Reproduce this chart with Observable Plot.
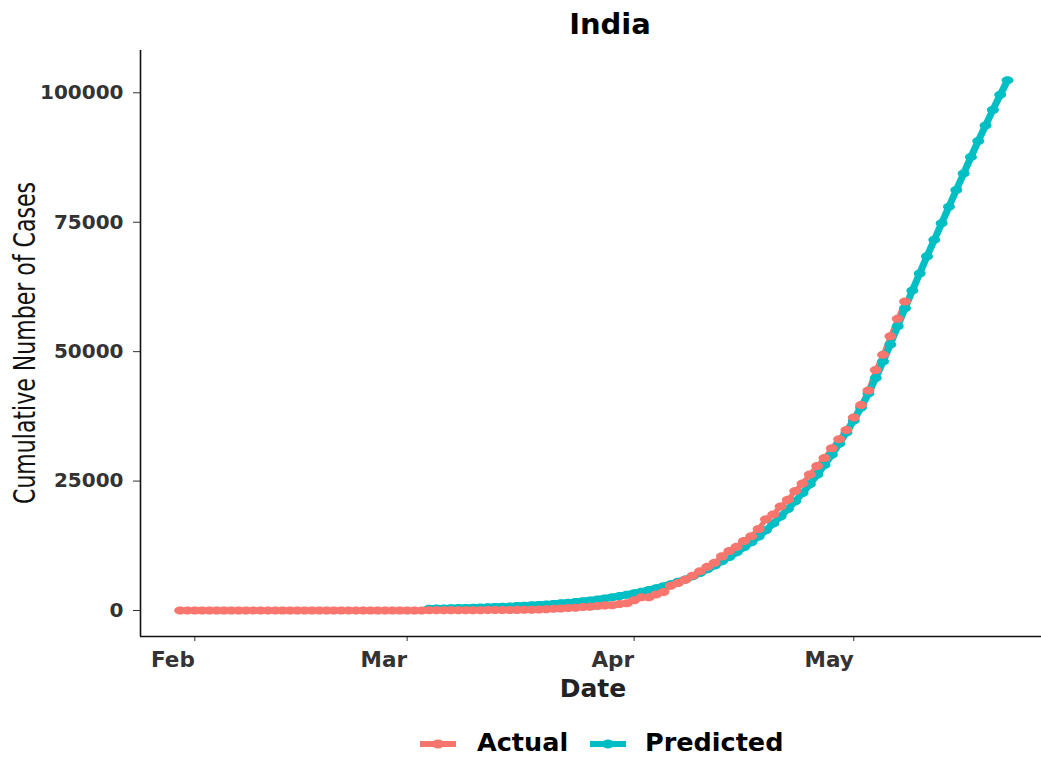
<!DOCTYPE html>
<html>
<head>
<meta charset="utf-8">
<script src="https://cdn.jsdelivr.net/npm/d3@7"></script>
<script src="https://cdn.jsdelivr.net/npm/@observablehq/plot@0.6"></script>
<style>
  html, body { margin: 0; padding: 0; background: #fff; }
  body { width: 1041px; height: 757px; overflow: hidden; position: relative; font-family: "DejaVu Sans", sans-serif; }
  #chart { position: absolute; left: 0; top: 0; }
  .lbl { position: absolute; white-space: nowrap; transform: translate(-50%, -50%); line-height: normal; }
  .title { font-weight: bold; font-size: 29px; color: #000; }
  .xlab { font-weight: bold; font-size: 25px; color: #222; }
  .ylab { font-family: "Liberation Sans Narrow", "DejaVu Sans Condensed", sans-serif; font-stretch: condensed; font-size: 24.5px; color: #111; transform: translate(-50%, -50%) rotate(-90deg) scale(1, 1.2); }
  .leg { position: absolute; font-weight: bold; font-size: 25.5px; line-height: normal; color: #000; white-space: nowrap; }
  .sw { position: absolute; }
</style>
</head>
<body>
<div id="chart"></div>
<div class="lbl title" style="left:610px; top:24px;">India</div>
<div class="lbl xlab" style="left:593px; top:688px;">Date</div>
<div class="lbl ylab" style="left:25px; top:343px;">Cumulative Number of Cases</div>
<div id="legend"></div>
<script>
// ---- data ----
const seriesNames = ["Actual", "Predicted"];
const seriesColors = ["#F8766D", "#00BFC4"];

const actualStart = "2020-01-30";
const actualValues = [
  1, 1,
  1, 2, 3, 3, 3, 3, 3, 3, 3, 3, 3, 3, 3, 3, 3, 3, 3, 3, 3, 3, 3, 3, 3, 3, 3, 3, 3, 3, 3,
  3, 5, 5, 28, 30, 31, 34, 39, 43, 56, 62, 73, 82, 102, 113, 119, 142, 156, 194, 244, 330, 396, 499, 536, 657, 727, 887, 987, 1024, 1251, 1397,
  1998, 2543, 2567, 3082, 3588, 4778, 5311, 5916, 6725, 7598, 8446, 9205, 10453, 11487, 12322, 13430, 14352, 15722, 17615, 18539, 20080, 21370, 23077, 24530, 26283, 27890, 29451, 31324, 33062, 34863,
  37257, 39699, 42505, 46437, 49400, 52987, 56351, 59695
];

const predictedStart = "2020-03-04";
const predictedValues = [
  330, 360, 390, 420, 460, 500, 540, 580, 630, 680, 730, 790, 850, 920, 1000, 1080, 1170, 1270, 1380, 1500, 1630, 1780, 1940, 2120, 2320, 2540, 2780, 3040,
  3320, 3620, 3950, 4300, 4680, 5090, 5530, 6000, 6600, 7250, 7950, 8700, 9500, 10350, 11250, 12200, 13200, 14300, 15500, 16800, 18150, 19600, 21100, 22700, 24400, 26200, 28100, 30100, 32200, 34400,
  36700, 39200, 41900, 44900, 48100, 51400, 54900, 58400, 61800, 65100, 68400, 71600, 74800, 78000, 81200, 84400, 87600, 90700, 93700, 96700, 99600, 102400
];

const xTickLabels = ["2020-02-01", "2020-03-01", "2020-04-01", "2020-05-01"];
const yTickValues = [0, 25000, 50000, 75000, 100000];

// ---- build tables ----
function daily(start, values) {
  const s = new Date(start + "T00:00Z");
  return values.map((v, i) => ({ date: d3.utcDay.offset(s, i), value: v }));
}
const actual = daily(actualStart, actualValues);
const predicted = daily(predictedStart, predictedValues);

const xDomain = [new Date("2020-01-24T14:00Z"), new Date("2020-05-26T15:20Z")];
const yDomain = [-5022, 108170];

// ellipse symbol (points appear horizontally elongated in the reference)
const ellipse = {
  draw(ctx, size) {
    const r = Math.sqrt(size / Math.PI);
    const rx = r * 1.22, ry = r * 0.82, k = 0.5523;
    ctx.moveTo(rx, 0);
    ctx.bezierCurveTo(rx, ry * k, rx * k, ry, 0, ry);
    ctx.bezierCurveTo(-rx * k, ry, -rx, ry * k, -rx, 0);
    ctx.bezierCurveTo(-rx, -ry * k, -rx * k, -ry, 0, -ry);
    ctx.bezierCurveTo(rx * k, -ry, rx, -ry * k, rx, 0);
    ctx.closePath();
  }
};

const chart = Plot.plot({
  width: 1041,
  height: 700,
  marginLeft: 140,
  marginRight: 0,
  marginTop: 50,
  marginBottom: 64,
  style: { background: "transparent", fontFamily: "DejaVu Sans, sans-serif" },
  x: { type: "utc", domain: xDomain, label: null },
  y: { domain: yDomain, label: null },
  marks: [
    Plot.axisY({
      ticks: yTickValues, tickSize: 7, tickPadding: 10,
      tickFormat: d => String(d), fontSize: 20, fontWeight: "bold",
      color: "#333", label: null
    }),
    Plot.axisX({
      ticks: xTickLabels.map(d => new Date(d + "T00:00Z")), tickSize: 5, tickPadding: 10,
      tickFormat: d3.utcFormat("%b"), textAnchor: "end", fontSize: 21.5, fontWeight: "bold",
      color: "#333", label: null
    }),
    Plot.ruleX([xDomain[0]], { stroke: "#111", strokeWidth: 1.6 }),
    Plot.ruleY([yDomain[0]], { stroke: "#111", strokeWidth: 1.6 }),
    Plot.line(actual, { x: "date", y: "value", stroke: seriesColors[0], strokeWidth: 5 }),
    Plot.line(predicted, { x: "date", y: "value", stroke: seriesColors[1], strokeWidth: 7 }),
    Plot.dot(predicted, { x: "date", y: "value", fill: seriesColors[1], r: 4.9, symbol: ellipse }),
    Plot.dot(actual, { x: "date", y: "value", fill: seriesColors[0], r: 4.9, symbol: ellipse })
  ]
});
document.getElementById("chart").appendChild(chart);

// ---- legend ----
const legend = document.getElementById("legend");
const legendPos = [{ sw: 420, tx: 477 }, { sw: 590, tx: 645 }];
seriesNames.forEach((name, i) => {
  const c = seriesColors[i];
  const sw = document.createElement("div");
  sw.className = "sw";
  sw.style.left = legendPos[i].sw + "px";
  sw.style.top = "736px";
  sw.innerHTML = `<svg width="36" height="14" viewBox="0 0 36 14"><line x1="0" y1="7" x2="36" y2="7" stroke="${c}" stroke-width="6"/><ellipse cx="18" cy="7" rx="6" ry="4.5" fill="${c}"/></svg>`;
  legend.appendChild(sw);
  const t = document.createElement("div");
  t.className = "leg";
  t.style.left = legendPos[i].tx + "px";
  t.style.top = "727px";
  t.textContent = name;
  legend.appendChild(t);
});
</script>
</body>
</html>
